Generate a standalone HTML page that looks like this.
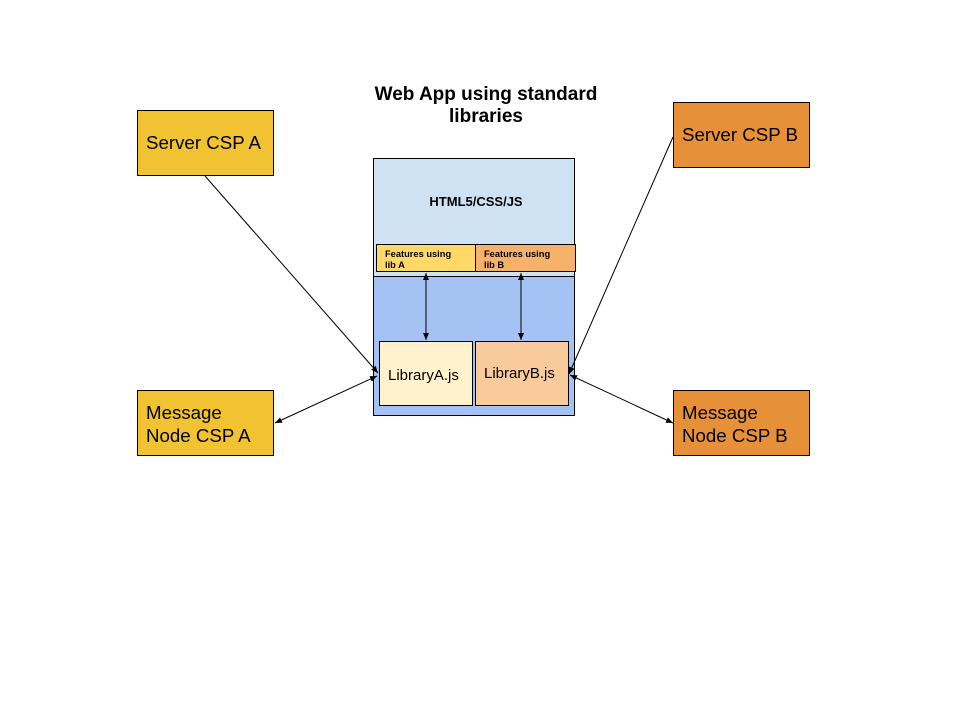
<!DOCTYPE html>
<html><head><meta charset="utf-8"><style>
body{margin:0;background:#fff;width:960px;height:720px;overflow:hidden}
svg text{font-family:"Liberation Sans",Arial,sans-serif}
</style></head><body>
<svg width="960" height="720" viewBox="0 0 960 720" xmlns="http://www.w3.org/2000/svg">
<defs>
<marker id="a" markerWidth="8" markerHeight="8" refX="7" refY="4" orient="auto-start-reverse" markerUnits="userSpaceOnUse">
<path d="M0,1 L7,4 L0,7 z" fill="#000"/></marker>
</defs>
<rect width="960" height="720" fill="#fff"/>
<text x="486" y="100" font-size="19" font-weight="bold" text-anchor="middle">Web App using standard</text>
<text x="486" y="122" font-size="19" font-weight="bold" text-anchor="middle">libraries</text>

<rect x="373.5" y="158.5" width="201" height="118" fill="#cfe2f3" stroke="#000"/>
<rect x="373.5" y="276.5" width="201" height="139" fill="#a4c2f4" stroke="#000"/>
<text x="476" y="206" font-size="13" font-weight="bold" text-anchor="middle">HTML5/CSS/JS</text>
<rect x="376.5" y="244.5" width="99" height="27" fill="#ffd966" stroke="#000"/>
<rect x="475.5" y="244.5" width="100" height="27" fill="#f6b26b" stroke="#000"/>
<text x="385" y="257" font-size="9.3" font-weight="bold">Features using</text>
<text x="385" y="268" font-size="9.3" font-weight="bold">lib A</text>
<text x="484" y="257" font-size="9.3" font-weight="bold">Features using</text>
<text x="484" y="268" font-size="9.3" font-weight="bold">lib B</text>
<rect x="379.5" y="341.5" width="93" height="64" fill="#fff2cc" stroke="#000"/>
<rect x="475.5" y="341.5" width="93" height="64" fill="#f9cb9c" stroke="#000"/>
<text x="388" y="380" font-size="15">LibraryA.js</text>
<text x="484" y="378" font-size="15">LibraryB.js</text>

<line x1="426" y1="273" x2="426" y2="340" stroke="#000" marker-start="url(#a)" marker-end="url(#a)"/>
<line x1="521" y1="273" x2="521" y2="340" stroke="#000" marker-start="url(#a)" marker-end="url(#a)"/>

<rect x="137.5" y="110.5" width="136" height="65" fill="#f1c232" stroke="#000"/>
<text x="146" y="149" font-size="18.7">Server CSP A</text>
<rect x="673.5" y="102.5" width="136" height="65" fill="#e69138" stroke="#000"/>
<text x="682" y="141" font-size="18.7">Server CSP B</text>
<rect x="137.5" y="390.5" width="136" height="65" fill="#f1c232" stroke="#000"/>
<text x="146" y="419" font-size="18.7">Message</text>
<text x="146" y="442" font-size="18.7">Node CSP A</text>
<rect x="673.5" y="390.5" width="136" height="65" fill="#e69138" stroke="#000"/>
<text x="682" y="419" font-size="18.7">Message</text>
<text x="682" y="442" font-size="18.7">Node CSP B</text>

<line x1="205" y1="176" x2="378" y2="373" stroke="#000" marker-end="url(#a)"/>
<line x1="673" y1="137" x2="569" y2="374" stroke="#000" marker-end="url(#a)"/>
<line x1="377" y1="376" x2="275" y2="423" stroke="#000" marker-start="url(#a)" marker-end="url(#a)"/>
<line x1="570" y1="375" x2="673" y2="423" stroke="#000" marker-start="url(#a)" marker-end="url(#a)"/>
</svg>
</body></html>
